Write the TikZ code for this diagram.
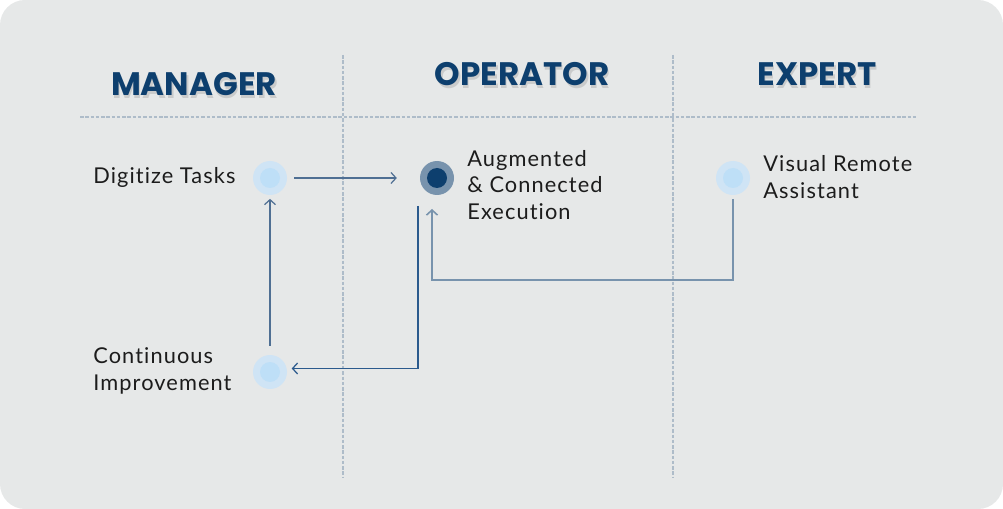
\documentclass[tikz,border=0pt]{standalone}
\usepackage{fontspec}
\setmainfont{Lato}[LetterSpace=5,Ligatures=NoCommon]
\newfontfamily\headfont{Poppins}
\usetikzlibrary{positioning,arrows.meta}

\definecolor{panelgray}{HTML}{E6E8E8}
\definecolor{navy}{HTML}{0D3F6E}
\definecolor{haloblue}{HTML}{CFE4F5}
\definecolor{coreblue}{HTML}{BEDFF7}
\definecolor{ringblue}{HTML}{7893AD}
\definecolor{guidegray}{HTML}{AEBCC9}
\definecolor{flowblue}{HTML}{4F6F93}
\definecolor{darkflow}{HTML}{2B5A8D}
\definecolor{inkblack}{HTML}{1C1C1C}

\tikzset{
  role/.style={font=\headfont\bfseries\fontsize{18.5}{22}\selectfont, text=navy, inner sep=0pt},
  roleshadow/.style={role, text=black, opacity=0.12},
  task/.style={font=\fontsize{12.4}{15.3}\selectfont, text=inkblack, align=left, inner sep=0pt},
  stage/.style={circle, fill=haloblue, minimum size=0.68cm, inner sep=0pt,
    path picture={\fill[coreblue] (path picture bounding box.center) circle (0.2cm);}},
  livestage/.style={stage, fill=ringblue,
    path picture={\fill[navy] (path picture bounding box.center) circle (0.2cm);}},
  guide/.style={guidegray, line width=0.6pt, dash pattern=on 2pt off 1pt},
  flow/.style={flowblue, line width=0.7pt, -{Straight Barb[length=1mm,width=2.2mm]}},
}

\begin{document}
\begin{tikzpicture}[x=0.02cm,y=-0.02cm]
  \useasboundingbox (0,0) rectangle (1003,509);
  \fill[panelgray] (0,0) [rounded corners=0.5cm] rectangle (1003,509);

  % column guides
  \draw[guide] (343,55) -- (343,478);
  \draw[guide] (673,55) -- (673,478);
  \draw[guide] (80,117) -- (917,117);

  % headings, with a soft shadow
  \node[roleshadow] at (195.5,87.5) {MANAGER};
  \node[roleshadow] at (523.5,77.5) {OPERATOR};
  \node[roleshadow] at (818.5,77.5) {EXPERT};
  \node[role] (manager) at (194,84) {MANAGER};
  \node[role] (operator) at (522,74) {OPERATOR};
  \node[role] (expert) at (817,74) {EXPERT};

  % stages
  \node[stage] (digitize) at (270,178) {};
  \node[livestage] (execute) at (437,178) {};
  \node[stage] (remote) at (733,178) {};
  \node[stage] (improve) at (270,372) {};

  \node[task, anchor=west] (digitizetxt) at (93,177) {Digitize Tasks};
  \node[task, anchor=west] (executetxt) at (467,185) {Augmented\\\& Connected\\Execution};
  \node[task, anchor=west] (remotetxt) at (763,177) {Visual Remote\\Assistant};
  \node[task, anchor=west] (improvetxt) at (93,371) {Continuous\\Improvement};

  % flow
  \coordinate (execout) at (418,206);
  \coordinate (execin) at (432,209);
  \coordinate (loop) at (432,280);
  \draw[flow, shorten <=4pt, shorten >=13pt] (digitize) -- (execute);
  \draw[flow, shorten <=5pt, shorten >=2pt] (improve.north) -- (digitize.south);
  \draw[flow, darkflow] (execout) |- ([shift={(2.5pt,2pt)}]improve.east);
  \draw[flow, ringblue, line width=0.9pt, shorten <=2pt] (remote.south) |- (loop) -- (execin);
\end{tikzpicture}
\end{document}
